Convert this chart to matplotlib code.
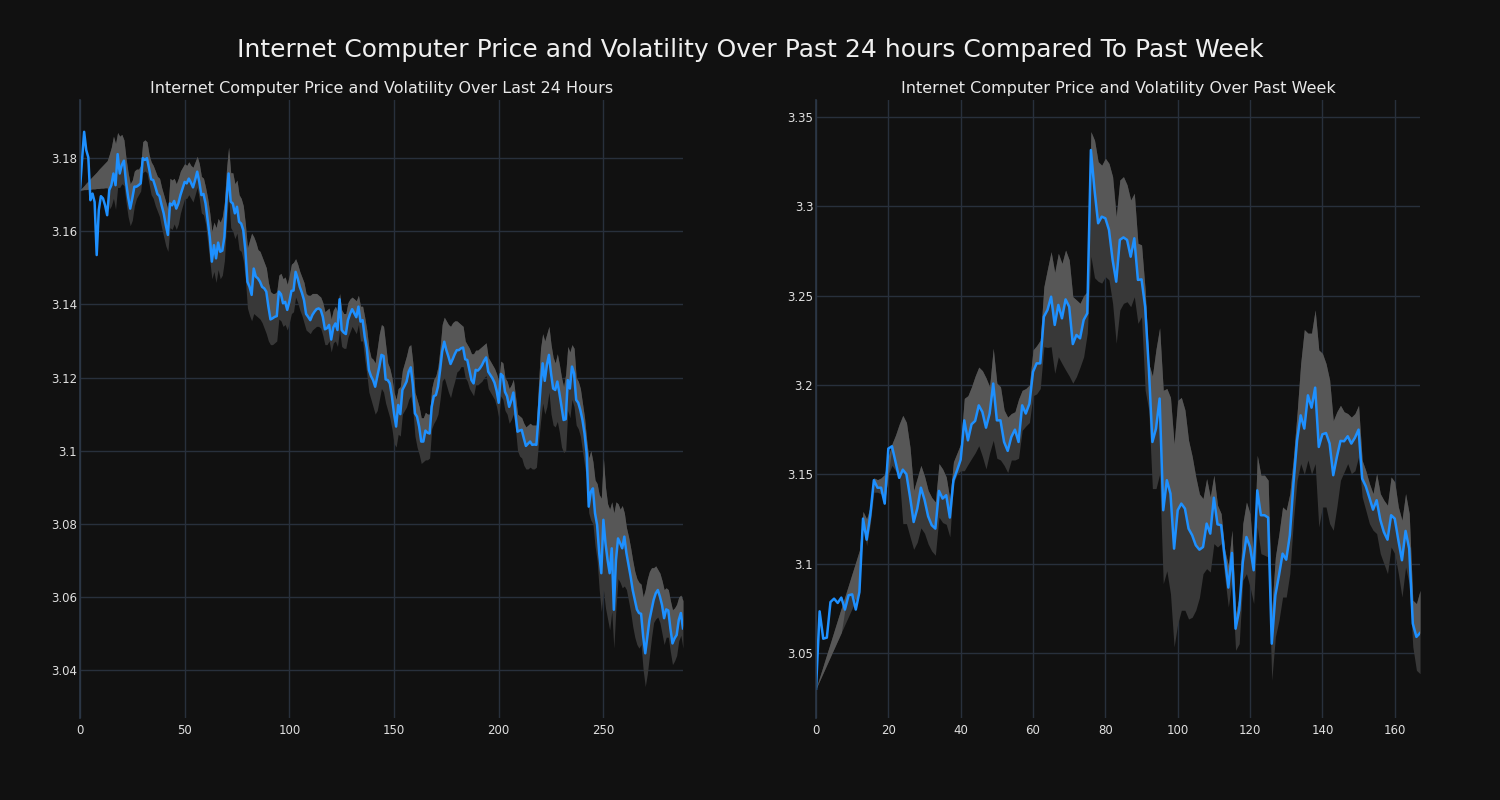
#! /usr/bin/env python3
# plots the internet computer price with a volatility band, last 24 hours next to past week
import matplotlib
matplotlib.use("Agg")
import numpy as np
import matplotlib.pyplot as plt
from matplotlib.ticker import FuncFormatter, MultipleLocator

day_price = [
    3.1713, 3.1795, 3.1872, 3.1822, 3.1802, 3.1685, 3.1703, 3.1680, 3.1535, 3.1658,
    3.1696, 3.1690, 3.1671, 3.1644, 3.1713, 3.1726, 3.1758, 3.1726, 3.1811, 3.1758,
    3.1781, 3.1793, 3.1735, 3.1694, 3.1662, 3.1690, 3.1722, 3.1722, 3.1726, 3.1731,
    3.1800, 3.1795, 3.1800, 3.1772, 3.1742, 3.1740, 3.1722, 3.1702, 3.1696, 3.1671,
    3.1649, 3.1617, 3.1590, 3.1676, 3.1671, 3.1683, 3.1662, 3.1676, 3.1699, 3.1717,
    3.1735, 3.1731, 3.1744, 3.1733, 3.1720, 3.1740, 3.1763, 3.1735, 3.1699, 3.1702,
    3.1676, 3.1630, 3.1585, 3.1517, 3.1562, 3.1526, 3.1569, 3.1544, 3.1547, 3.1585,
    3.1685, 3.1758, 3.1681, 3.1676, 3.1649, 3.1667, 3.1626, 3.1621, 3.1603, 3.1549,
    3.1462, 3.1448, 3.1426, 3.1498, 3.1476, 3.1471, 3.1462, 3.1448, 3.1444, 3.1435,
    3.1394, 3.1359, 3.1362, 3.1366, 3.1368, 3.1435, 3.1428, 3.1403, 3.1407, 3.1385,
    3.1407, 3.1437, 3.1438, 3.1489, 3.1471, 3.1448, 3.1432, 3.1412, 3.1374, 3.1366,
    3.1357, 3.1371, 3.1380, 3.1387, 3.1389, 3.1385, 3.1366, 3.1332, 3.1335, 3.1344,
    3.1304, 3.1337, 3.1348, 3.1330, 3.1414, 3.1330, 3.1323, 3.1319, 3.1357, 3.1374,
    3.1387, 3.1376, 3.1365, 3.1394, 3.1353, 3.1357, 3.1312, 3.1280, 3.1221, 3.1204,
    3.1193, 3.1175, 3.1202, 3.1230, 3.1262, 3.1259, 3.1195, 3.1193, 3.1184, 3.1148,
    3.1102, 3.1066, 3.1125, 3.1100, 3.1166, 3.1177, 3.1189, 3.1216, 3.1228, 3.1180,
    3.1102, 3.1093, 3.1066, 3.1025, 3.1025, 3.1055, 3.1049, 3.1047, 3.1120, 3.1149,
    3.1152, 3.1175, 3.1220, 3.1271, 3.1298, 3.1275, 3.1257, 3.1237, 3.1250, 3.1264,
    3.1275, 3.1275, 3.1280, 3.1282, 3.1250, 3.1248, 3.1221, 3.1193, 3.1184, 3.1221,
    3.1219, 3.1225, 3.1234, 3.1246, 3.1255, 3.1216, 3.1207, 3.1198, 3.1186, 3.1164,
    3.1131, 3.1210, 3.1204, 3.1161, 3.1149, 3.1120, 3.1137, 3.1159, 3.1102, 3.1052,
    3.1055, 3.1057, 3.1034, 3.1013, 3.1019, 3.1025, 3.1016, 3.1017, 3.1016, 3.1093,
    3.1175, 3.1239, 3.1191, 3.1234, 3.1262, 3.1211, 3.1170, 3.1166, 3.1189, 3.1157,
    3.1120, 3.1084, 3.1086, 3.1193, 3.1170, 3.1230, 3.1211, 3.1139, 3.1131, 3.1111,
    3.1084, 3.1047, 3.0993, 3.0847, 3.0888, 3.0897, 3.0829, 3.0797, 3.0720, 3.0665,
    3.0811, 3.0747, 3.0701, 3.0665, 3.0733, 3.0565, 3.0701, 3.0760, 3.0747, 3.0733,
    3.0765, 3.0720, 3.0688, 3.0656, 3.0619, 3.0592, 3.0566, 3.0556, 3.0554, 3.0492,
    3.0446, 3.0492, 3.0537, 3.0565, 3.0592, 3.0610, 3.0619, 3.0601, 3.0578, 3.0542,
    3.0566, 3.0563, 3.0514, 3.0473, 3.0487, 3.0496, 3.0537, 3.0556, 3.0514,
]

day_upper = [
    3.1713, 3.1719, 3.1725, 3.1732, 3.1738, 3.1744, 3.1750, 3.1756, 3.1762, 3.1769,
    3.1775, 3.1781, 3.1787, 3.1793, 3.1810, 3.1830, 3.1860, 3.1840, 3.1870, 3.1860,
    3.1865, 3.1850, 3.1800, 3.1760, 3.1730, 3.1740, 3.1765, 3.1770, 3.1770, 3.1780,
    3.1845, 3.1850, 3.1845, 3.1810, 3.1790, 3.1780, 3.1765, 3.1750, 3.1745, 3.1720,
    3.1700, 3.1680, 3.1660, 3.1745, 3.1740, 3.1745, 3.1730, 3.1745, 3.1765, 3.1775,
    3.1785, 3.1780, 3.1790, 3.1780, 3.1775, 3.1790, 3.1805, 3.1785, 3.1750, 3.1745,
    3.1720, 3.1690, 3.1650, 3.1600, 3.1625, 3.1610, 3.1635, 3.1625, 3.1640, 3.1680,
    3.1770, 3.1830, 3.1760, 3.1760, 3.1730, 3.1740, 3.1700, 3.1690, 3.1670, 3.1620,
    3.1555, 3.1575, 3.1595, 3.1585, 3.1570, 3.1550, 3.1545, 3.1530, 3.1515, 3.1500,
    3.1460, 3.1435, 3.1430, 3.1430, 3.1435, 3.1480, 3.1485, 3.1470, 3.1475, 3.1455,
    3.1480, 3.1510, 3.1515, 3.1525, 3.1510, 3.1490, 3.1475, 3.1460, 3.1430, 3.1425,
    3.1425, 3.1430, 3.1430, 3.1430, 3.1425, 3.1420, 3.1405, 3.1380, 3.1385, 3.1390,
    3.1360, 3.1385, 3.1395, 3.1380, 3.1430, 3.1385, 3.1375, 3.1375, 3.1405, 3.1415,
    3.1420, 3.1415, 3.1410, 3.1425, 3.1395, 3.1395, 3.1365, 3.1330, 3.1280, 3.1255,
    3.1250, 3.1240, 3.1280, 3.1320, 3.1345, 3.1340, 3.1290, 3.1240, 3.1225, 3.1200,
    3.1160, 3.1140, 3.1170, 3.1175, 3.1220, 3.1240, 3.1260, 3.1285, 3.1290, 3.1240,
    3.1160, 3.1140, 3.1120, 3.1090, 3.1090, 3.1105, 3.1100, 3.1100, 3.1170, 3.1195,
    3.1205, 3.1230, 3.1280, 3.1345, 3.1365, 3.1355, 3.1345, 3.1340, 3.1350, 3.1355,
    3.1355, 3.1350, 3.1345, 3.1340, 3.1300, 3.1290, 3.1280, 3.1265, 3.1265, 3.1275,
    3.1275, 3.1280, 3.1285, 3.1290, 3.1295, 3.1255, 3.1245, 3.1235, 3.1225, 3.1210,
    3.1190, 3.1245, 3.1240, 3.1200, 3.1190, 3.1170, 3.1180, 3.1195, 3.1150, 3.1100,
    3.1095, 3.1090, 3.1075, 3.1065, 3.1070, 3.1075, 3.1070, 3.1070, 3.1070, 3.1180,
    3.1280, 3.1320, 3.1300, 3.1320, 3.1340, 3.1290, 3.1255, 3.1240, 3.1265, 3.1235,
    3.1200, 3.1175, 3.1210, 3.1285, 3.1270, 3.1290, 3.1280, 3.1200, 3.1190, 3.1170,
    3.1130, 3.1090, 3.1030, 3.0980, 3.1000, 3.0970, 3.0920, 3.0910, 3.0880, 3.0870,
    3.0980, 3.0900, 3.0855, 3.0840, 3.0860, 3.0830, 3.0860, 3.0855, 3.0840, 3.0850,
    3.0830, 3.0790, 3.0765, 3.0735, 3.0700, 3.0670, 3.0650, 3.0640, 3.0635, 3.0600,
    3.0620, 3.0650, 3.0670, 3.0680, 3.0680, 3.0685, 3.0675, 3.0665, 3.0645, 3.0620,
    3.0625, 3.0620, 3.0590, 3.0565, 3.0570, 3.0580, 3.0600, 3.0605, 3.0590,
]

day_lower = [
    3.1713, 3.1713, 3.1714, 3.1714, 3.1715, 3.1715, 3.1716, 3.1716, 3.1717, 3.1717,
    3.1718, 3.1718, 3.1719, 3.1719, 3.1660, 3.1670, 3.1690, 3.1660, 3.1720, 3.1720,
    3.1730, 3.1725, 3.1680, 3.1640, 3.1615, 3.1630, 3.1670, 3.1690, 3.1700, 3.1710,
    3.1760, 3.1765, 3.1760, 3.1730, 3.1700, 3.1690, 3.1670, 3.1655, 3.1640, 3.1610,
    3.1585, 3.1560, 3.1545, 3.1610, 3.1605, 3.1620, 3.1605, 3.1620, 3.1650, 3.1670,
    3.1690, 3.1690, 3.1700, 3.1690, 3.1680, 3.1700, 3.1720, 3.1690, 3.1650, 3.1645,
    3.1620, 3.1570, 3.1520, 3.1470, 3.1490, 3.1460, 3.1495, 3.1470, 3.1480, 3.1520,
    3.1620, 3.1700, 3.1610, 3.1600, 3.1580, 3.1595, 3.1550, 3.1545, 3.1520, 3.1470,
    3.1390, 3.1370, 3.1355, 3.1375, 3.1370, 3.1365, 3.1360, 3.1350, 3.1335, 3.1320,
    3.1300, 3.1290, 3.1290, 3.1295, 3.1300, 3.1360, 3.1355, 3.1340, 3.1345, 3.1330,
    3.1350, 3.1375, 3.1380, 3.1420, 3.1405, 3.1385, 3.1370, 3.1350, 3.1330, 3.1325,
    3.1320, 3.1330, 3.1335, 3.1340, 3.1340, 3.1335, 3.1315, 3.1290, 3.1290, 3.1300,
    3.1270, 3.1295, 3.1300, 3.1285, 3.1330, 3.1285, 3.1280, 3.1280, 3.1310, 3.1325,
    3.1340, 3.1330, 3.1320, 3.1345, 3.1300, 3.1300, 3.1250, 3.1210, 3.1160, 3.1140,
    3.1120, 3.1100, 3.1110, 3.1140, 3.1170, 3.1160, 3.1130, 3.1110, 3.1090, 3.1060,
    3.1020, 3.1010, 3.1045, 3.1040, 3.1100, 3.1110, 3.1120, 3.1140, 3.1150, 3.1110,
    3.1040, 3.1010, 3.0990, 3.0965, 3.0970, 3.0975, 3.0975, 3.0980, 3.1060, 3.1075,
    3.1085, 3.1100, 3.1140, 3.1190, 3.1200, 3.1180, 3.1160, 3.1145, 3.1170, 3.1190,
    3.1215, 3.1220, 3.1230, 3.1230, 3.1200, 3.1190, 3.1170, 3.1160, 3.1150, 3.1180,
    3.1180, 3.1185, 3.1190, 3.1200, 3.1205, 3.1170, 3.1160, 3.1150, 3.1140, 3.1120,
    3.1090, 3.1150, 3.1140, 3.1110, 3.1100, 3.1075, 3.1085, 3.1100, 3.1060, 3.1000,
    3.0985, 3.0980, 3.0960, 3.0950, 3.0950, 3.0955, 3.0950, 3.0950, 3.0955, 3.1020,
    3.1080, 3.1130, 3.1100, 3.1120, 3.1160, 3.1100, 3.1070, 3.1065, 3.1080, 3.1050,
    3.1010, 3.0995, 3.1000, 3.1110, 3.1090, 3.1140, 3.1120, 3.1070, 3.1060, 3.1040,
    3.1000, 3.0960, 3.0920, 3.0830, 3.0810, 3.0800, 3.0740, 3.0700, 3.0620, 3.0560,
    3.0620, 3.0570, 3.0540, 3.0510, 3.0560, 3.0460, 3.0570, 3.0650, 3.0640, 3.0625,
    3.0630, 3.0620, 3.0590, 3.0560, 3.0520, 3.0490, 3.0470, 3.0460, 3.0470, 3.0400,
    3.0355, 3.0390, 3.0440, 3.0490, 3.0530, 3.0540, 3.0545, 3.0530, 3.0500, 3.0470,
    3.0490, 3.0490, 3.0450, 3.0415, 3.0425, 3.0440, 3.0480, 3.0495, 3.0460,
]

week_price = [
    3.0300, 3.0733, 3.0580, 3.0586, 3.0785, 3.0804, 3.0780, 3.0810, 3.0743, 3.0823,
    3.0828, 3.0743, 3.0841, 3.1252, 3.1134, 3.1270, 3.1467, 3.1425, 3.1425, 3.1336,
    3.1644, 3.1657, 3.1569, 3.1480, 3.1526, 3.1500, 3.1373, 3.1233, 3.1308, 3.1425,
    3.1358, 3.1265, 3.1215, 3.1196, 3.1407, 3.1364, 3.1383, 3.1258, 3.1467, 3.1522,
    3.1582, 3.1802, 3.1690, 3.1780, 3.1799, 3.1886, 3.1849, 3.1761, 3.1840, 3.2008,
    3.1802, 3.1802, 3.1681, 3.1631, 3.1709, 3.1750, 3.1681, 3.1886, 3.1840, 3.1895,
    3.2074, 3.2121, 3.2121, 3.2382, 3.2420, 3.2494, 3.2336, 3.2448, 3.2373, 3.2479,
    3.2438, 3.2229, 3.2280, 3.2261, 3.2364, 3.2401, 3.3315, 3.3091, 3.2905, 3.2942,
    3.2933, 3.2868, 3.2700, 3.2578, 3.2812, 3.2826, 3.2812, 3.2718, 3.2821, 3.2588,
    3.2591, 3.2438, 3.2100, 3.1681, 3.1756, 3.1924, 3.1299, 3.1467, 3.1392, 3.1084,
    3.1299, 3.1336, 3.1308, 3.1196, 3.1159, 3.1103, 3.1078, 3.1093, 3.1224, 3.1168,
    3.1369, 3.1220, 3.1215, 3.1037, 3.0866, 3.1060, 3.0636, 3.0739, 3.1009, 3.1149,
    3.1093, 3.0963, 3.1410, 3.1271, 3.1271, 3.1258, 3.0552, 3.0823, 3.0935, 3.1056,
    3.1022, 3.1159, 3.1448, 3.1690, 3.1830, 3.1756, 3.1942, 3.1873, 3.1985, 3.1653,
    3.1724, 3.1731, 3.1672, 3.1495, 3.1597, 3.1687, 3.1685, 3.1713, 3.1672, 3.1705,
    3.1750, 3.1476, 3.1433, 3.1369, 3.1302, 3.1355, 3.1246, 3.1177, 3.1134, 3.1271,
    3.1252, 3.1131, 3.1019, 3.1183, 3.1084, 3.0664, 3.0590, 3.0612,
]

week_upper = [
    3.0300, 3.0365, 3.0429, 3.0494, 3.0558, 3.0623, 3.0688, 3.0752, 3.0817, 3.0881,
    3.0946, 3.1010, 3.1075, 3.1292, 3.1250, 3.1320, 3.1480, 3.1470, 3.1480, 3.1500,
    3.1600, 3.1670, 3.1720, 3.1780, 3.1830, 3.1790, 3.1650, 3.1410, 3.1480, 3.1550,
    3.1490, 3.1410, 3.1370, 3.1345, 3.1560, 3.1530, 3.1485, 3.1360, 3.1570, 3.1620,
    3.1670, 3.1925, 3.1940, 3.1990, 3.2050, 3.2100, 3.2080, 3.2040, 3.1990, 3.2205,
    3.2010, 3.1990, 3.1860, 3.1820, 3.1840, 3.1850, 3.1920, 3.1970, 3.1980, 3.2000,
    3.2196, 3.2220, 3.2250, 3.2550, 3.2650, 3.2746, 3.2630, 3.2737, 3.2680, 3.2755,
    3.2700, 3.2494, 3.2476, 3.2457, 3.2500, 3.2522, 3.3418, 3.3370, 3.3250, 3.3230,
    3.3269, 3.3240, 3.3166, 3.2942, 3.3147, 3.3166, 3.3120, 3.3035, 3.3073, 3.2793,
    3.2784, 3.2532, 3.2120, 3.2050, 3.2200, 3.2320, 3.1970, 3.1980, 3.1930, 3.1670,
    3.1914, 3.1930, 3.1860, 3.1690, 3.1600, 3.1485, 3.1390, 3.1364, 3.1476, 3.1373,
    3.1495, 3.1327, 3.1280, 3.1075, 3.0990, 3.1187, 3.0720, 3.0813, 3.1224, 3.1345,
    3.1280, 3.1019, 3.1606, 3.1495, 3.1495, 3.1467, 3.0739, 3.1037, 3.1168, 3.1317,
    3.1299, 3.1392, 3.1597, 3.1840, 3.2120, 3.2310, 3.2290, 3.2290, 3.2420, 3.2196,
    3.2177, 3.2120, 3.2028, 3.1800, 3.1850, 3.1886, 3.1850, 3.1840, 3.1820, 3.1840,
    3.1886, 3.1578, 3.1520, 3.1448, 3.1392, 3.1504, 3.1392, 3.1355, 3.1327, 3.1485,
    3.1457, 3.1317, 3.1243, 3.1392, 3.1280, 3.0795, 3.0776, 3.0850,
]

week_lower = [
    3.0300, 3.0345, 3.0390, 3.0435, 3.0480, 3.0525, 3.0570, 3.0615, 3.0660, 3.0705,
    3.0750, 3.0795, 3.0840, 3.1222, 3.1100, 3.1220, 3.1400, 3.1400, 3.1390, 3.1350,
    3.1500, 3.1550, 3.1520, 3.1500, 3.1224, 3.1224, 3.1150, 3.1080, 3.1120, 3.1200,
    3.1170, 3.1110, 3.1070, 3.1047, 3.1260, 3.1230, 3.1220, 3.1150, 3.1450, 3.1500,
    3.1520, 3.1520, 3.1555, 3.1588, 3.1620, 3.1660, 3.1600, 3.1530, 3.1620, 3.1690,
    3.1590, 3.1580, 3.1550, 3.1510, 3.1580, 3.1580, 3.1590, 3.1746, 3.1770, 3.1790,
    3.1940, 3.1950, 3.1980, 3.2214, 3.2210, 3.2214, 3.2065, 3.2158, 3.2120, 3.2084,
    3.2050, 3.2010, 3.2047, 3.2100, 3.2158, 3.2290, 3.2720, 3.2600, 3.2580, 3.2570,
    3.2606, 3.2588, 3.2457, 3.2233, 3.2420, 3.2457, 3.2466, 3.2438, 3.2494, 3.2345,
    3.2382, 3.1970, 3.1860, 3.1420, 3.1420, 3.1500, 3.0888, 3.0960, 3.0832, 3.0534,
    3.0664, 3.0739, 3.0739, 3.0690, 3.0700, 3.0740, 3.0810, 3.0944, 3.0972, 3.0953,
    3.1112, 3.1093, 3.1112, 3.0925, 3.0757, 3.0907, 3.0515, 3.0552, 3.0907, 3.0944,
    3.0870, 3.0776, 3.1205, 3.1056, 3.1047, 3.1037, 3.0347, 3.0590, 3.0683, 3.0813,
    3.0813, 3.0944, 3.1243, 3.1467, 3.1560, 3.1500, 3.1580, 3.1500, 3.1560, 3.1205,
    3.1317, 3.1317, 3.1224, 3.1187, 3.1317, 3.1467, 3.1513, 3.1560, 3.1504, 3.1520,
    3.1597, 3.1373, 3.1299, 3.1224, 3.1187, 3.1168, 3.1056, 3.1000, 3.0944, 3.1093,
    3.1056, 3.0944, 3.0813, 3.0981, 3.0888, 3.0534, 3.0403, 3.0384,
]

BG = "#111111"


def plot_panel(ax, price, upper, lower, title, x_step, y_step, ylim):
    """
    draws the price line with a volatility band on one axes
    parameters
    -----------
    ax : the axes to draw on
    price, upper, lower : lists of prices and band edges
    title : axes title
    """
    price = np.array(price)
    upper = np.array(upper)
    lower = np.array(lower)
    x = np.arange(len(price))
    # dark band for the whole range, lighter part above the line
    # (where the line leaves the band the whole band is drawn light)
    inside = (price >= lower) & (price <= upper)
    split = np.where(inside, price, lower)
    ax.fill_between(x, lower, upper, color="#383838", linewidth=0)
    ax.fill_between(x, split, upper, color="#575757", linewidth=0)
    ax.plot(x, price, color="#1e90ff", linewidth=1.8)

    ax.set_facecolor(BG)
    ax.set_title(title, color="#e8e8e8", fontsize=11.5, pad=5)
    ax.set_xlim(0, len(price) - 1)
    ax.set_ylim(*ylim)
    ax.xaxis.set_major_locator(MultipleLocator(x_step))
    ax.yaxis.set_major_locator(MultipleLocator(y_step))
    ax.yaxis.set_major_formatter(FuncFormatter(lambda v, p: f"{round(v, 4):g}"))
    ax.grid(True, color="#28303c", linewidth=1)
    ax.set_axisbelow(True)
    for side in ["top", "right", "bottom"]:
        ax.spines[side].set_visible(False)
    ax.spines["left"].set_color("#2c3848")
    ax.spines["left"].set_linewidth(1.2)
    ax.tick_params(length=0, colors="#e0e0e0", labelsize=8.5)
    ax.tick_params(axis="y", pad=2)
    ax.tick_params(axis="x", pad=4)


if __name__ == '__main__':

    fig = plt.figure(figsize=(15, 8), dpi=100, facecolor=BG)
    ax1 = fig.add_axes([0.0533, 0.1025, 0.402, 0.7725])
    ax2 = fig.add_axes([0.544, 0.1025, 0.4027, 0.7725])

    plot_panel(ax1, day_price, day_upper, day_lower,
               "Internet Computer Price and Volatility Over Last 24 Hours",
               50, 0.02, (3.0269, 3.1959))
    plot_panel(ax2, week_price, week_upper, week_lower,
               "Internet Computer Price and Volatility Over Past Week",
               20, 0.05, (3.0136, 3.3595))

    fig.suptitle("Internet Computer Price and Volatility Over Past 24 hours Compared To Past Week",
                 color="#f0f0f0", fontsize=18, y=0.9375, va="center")
    fig.savefig("out.png", facecolor=BG)
    plt.close('all')
